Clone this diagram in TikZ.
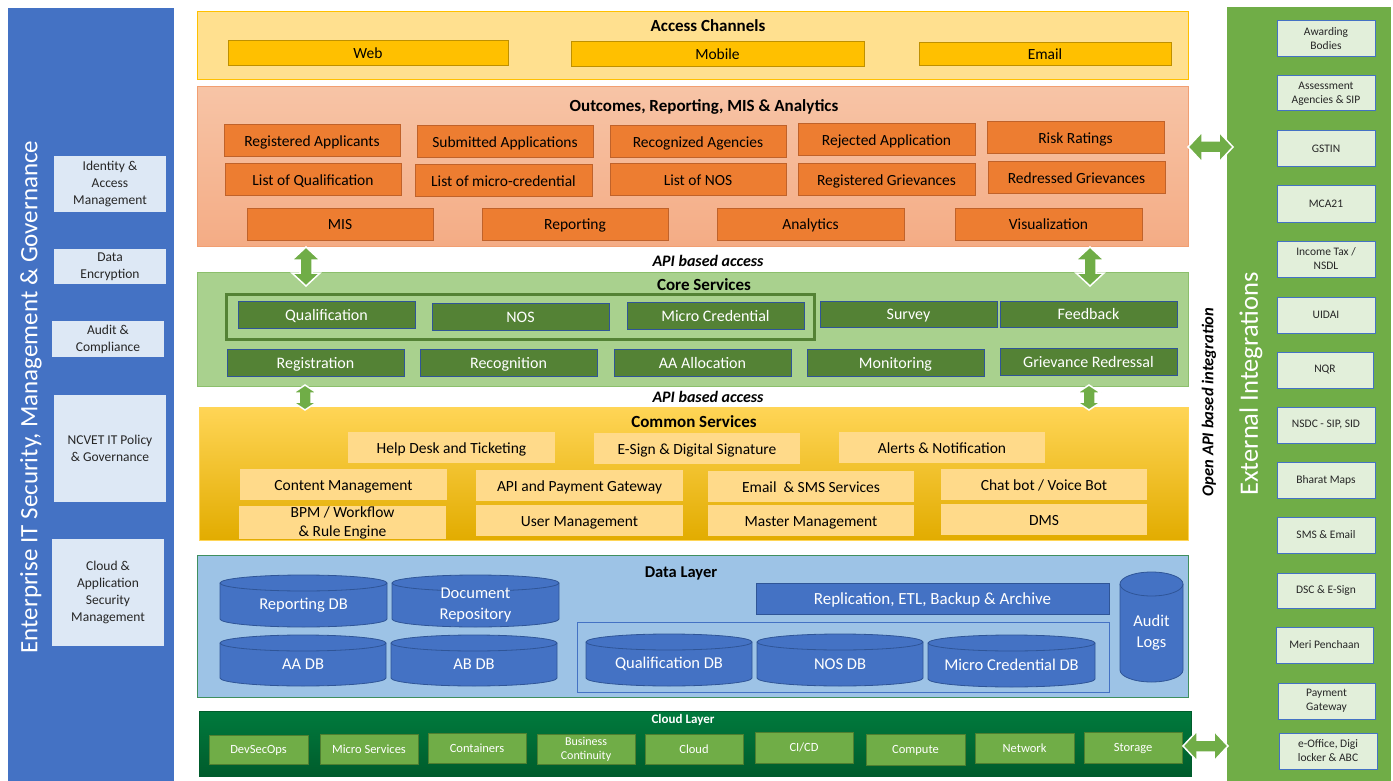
\documentclass[tikz,border=0pt]{standalone}
\usepackage{fontspec}
\setmainfont{Carlito}
\definecolor{leftblue}{HTML}{4472C4}
\definecolor{leftItem}{HTML}{DDE8F5}
\definecolor{rightgreen}{HTML}{70AD47}
\definecolor{rightItem}{HTML}{E2EFDA}
\definecolor{blueB}{HTML}{4472C4}
\definecolor{accBg}{HTML}{FFE08F}
\definecolor{accB}{HTML}{FFC000}
\definecolor{accItem}{HTML}{FFC000}
\definecolor{accItemB}{HTML}{BF9000}
\definecolor{outTop}{HTML}{F7C4A6}
\definecolor{outBot}{HTML}{F4AC85}
\definecolor{outB}{HTML}{F19F72}
\definecolor{outItem}{HTML}{ED7D31}
\definecolor{outItemB}{HTML}{C0622A}
\definecolor{coreBg}{HTML}{A9D18E}
\definecolor{coreB}{HTML}{8CBF6C}
\definecolor{coreItem}{HTML}{548235}
\definecolor{coreItemB}{HTML}{2F5597}
\definecolor{commTop}{HTML}{FFD556}
\definecolor{commMid}{HTML}{FFC000}
\definecolor{commBot}{HTML}{E2AC00}
\definecolor{commItem}{HTML}{FFDA8A}
\definecolor{dataBg}{HTML}{9DC3E6}
\definecolor{dataB}{HTML}{3F8F5F}
\definecolor{cylFill}{HTML}{4472C4}
\definecolor{cylB}{HTML}{2F5597}
\definecolor{cloudTop}{HTML}{007A3D}
\definecolor{cloudBot}{HTML}{005C2C}
\definecolor{cloudItem}{HTML}{70AD47}
\definecolor{cloudItemB}{HTML}{4E7F30}
\definecolor{arrowGreen}{HTML}{70AD47}
\newcommand\ffitem{\fontsize{15.5}{18}\selectfont}
\newcommand\ffcore{\fontsize{16}{18}\selectfont}
\newcommand\fftitle{\fontsize{17}{19}\selectfont}
\newcommand\ffleft{\fontsize{13.5}{17}\selectfont}
\newcommand\ffright{\fontsize{11.5}{14}\selectfont}
\newcommand\ffcloud{\fontsize{12.5}{14}\selectfont}
\newcommand\ffdata{\fontsize{16.5}{21}\selectfont}
\newcommand\ffbigl{\fontsize{25}{27}\selectfont}
\newcommand\ffbigr{\fontsize{26.5}{28}\selectfont}
\newcommand\ffapi{\fontsize{16}{18}\selectfont}
\newcommand\bx[7]{\node[#6,minimum width={(#4-#2)*1pt},minimum height={(#5-#3)*1pt}] (#1) at ({(#2+#4)/2},{(#3+#5)/2}) {#7};}
\newcommand\dbcyl[7]{%
  \path[cylshape] (#2,#3+#6) -- (#2,#5-#6) arc[start angle=180,end angle=360,x radius={((#4-#2)/2)*1pt},y radius=#6pt] -- (#4,#3+#6) arc[start angle=0,end angle=180,x radius={((#4-#2)/2)*1pt},y radius=#6pt] -- cycle;
  \draw[cylline] (#2,#3+#6) arc[start angle=180,end angle=360,x radius={((#4-#2)/2)*1pt},y radius=#6pt];
  \node[cyltext] (#1) at ({(#2+#4)/2},{(#3+#5)/2+#6/2}) {#7};}
\newcommand\vdarr[6]{% x, ytop, ybot, half head, head len, half shaft
  \path[dblarrow] (#1,#2) -- (#1+#4,#2+#5) -- (#1+#6,#2+#5) -- (#1+#6,#3-#5) -- (#1+#4,#3-#5) -- (#1,#3) -- (#1-#4,#3-#5) -- (#1-#6,#3-#5) -- (#1-#6,#2+#5) -- (#1-#4,#2+#5) -- cycle;}
\newcommand\hdarr[6]{% y, xleft, xright, half head, head len, half shaft
  \path[dblarrow] (#2,#1) -- (#2+#5,#1-#4) -- (#2+#5,#1-#6) -- (#3-#5,#1-#6) -- (#3-#5,#1-#4) -- (#3,#1) -- (#3-#5,#1+#4) -- (#3-#5,#1+#6) -- (#2+#5,#1+#6) -- (#2+#5,#1+#4) -- cycle;}
\begin{document}
\begin{tikzpicture}[x=1pt,y=-1pt,
  base/.style={inner sep=0pt,outer sep=0pt,align=center},
  layer/.style={base,line width=1pt},
  acc/.style={base,text height=13pt,text depth=2pt,fill=accItem,draw=accItemB,line width=1pt,font=\ffitem},
  outi/.style={base,text height=13pt,text depth=2pt,fill=outItem,draw=outItemB,line width=1pt,font=\ffitem},
  corei/.style={base,text height=13.2pt,text depth=2pt,fill=coreItem,draw=coreItemB,line width=1pt,text=white,font=\ffcore},
  commi/.style={base,fill=commItem,font=\ffitem},
  commone/.style={commi,text height=13pt,text depth=2pt},
  leftbox/.style={base,fill=leftItem,font=\ffleft,text=black!85},
  rightbox/.style={base,fill=rightItem,draw=blueB,line width=1pt,font=\ffright,text=black!85},
  cloudi/.style={base,fill=cloudItem,draw=cloudItemB,line width=0.8pt,text=white,font=\ffcloud},
  cloudone/.style={cloudi,text height=10.8pt,text depth=2pt},
  title/.style={font=\fftitle\bfseries},
  api/.style={font=\ffapi\bfseries\itshape},
  cylshape/.style={fill=cylFill,draw=cylB,line width=0.8pt},
  cylline/.style={draw=cylB,line width=0.8pt},
  cyltext/.style={base,text=white,font=\ffdata},
  dblarrow/.style={fill=arrowGreen,draw=white,line width=1.5pt,line join=miter}]
\useasboundingbox (0,0) rectangle (1393,781);
\fill[white] (0,0) rectangle (1393,781);

% left panel
\bx{secpanel}{8}{8}{174}{781}{base,fill=leftblue}{}
\node[base,rotate=90,text=white,font=\ffbigl] (sectitle) at (31,397) {Enterprise IT Security, Management \& Governance};
\bx{iam}{54}{156}{166}{212}{leftbox}{Identity \&\\Access\\Management}
\bx{enc}{54}{249}{166}{284}{leftbox}{Data\\Encryption}
\bx{aud}{52}{321}{164}{357}{leftbox}{Audit \&\\Compliance}
\bx{pol}{54}{395}{166}{502}{leftbox}{NCVET IT Policy\\\& Governance}
\bx{csm}{52}{539}{164}{646}{leftbox}{Cloud \&\\Application\\Security\\Management}

% right panel
\bx{extpanel}{1227}{7}{1391}{781}{base,fill=rightgreen}{}
\node[base,rotate=90,text=white,font=\ffbigr] (exttitle) at (1251,384) {External Integrations};
\bx{e1}{1277}{21}{1375}{57}{rightbox}{Awarding\\Bodies}
\bx{e2}{1277}{76}{1375}{111}{rightbox}{Assessment\\Agencies \& SIP}
\bx{e3}{1277}{131}{1375}{167}{rightbox}{GSTIN}
\bx{e4}{1277}{186}{1375}{222}{rightbox}{MCA21}
\bx{e5}{1277}{241}{1375}{277}{rightbox}{Income Tax /\\NSDL}
\bx{e6}{1277}{297}{1375}{333}{rightbox}{UIDAI}
\bx{e7}{1277}{352}{1373}{388}{rightbox}{NQR}
\bx{e8}{1277}{407}{1375}{443}{rightbox}{NSDC - SIP, SID}
\bx{e9}{1277}{462}{1375}{498}{rightbox}{Bharat Maps}
\bx{e10}{1277}{517}{1375}{553}{rightbox}{SMS \& Email}
\bx{e11}{1277}{573}{1375}{608}{rightbox}{DSC \& E-Sign}
\bx{e12}{1276}{627}{1373}{663}{rightbox}{Meri Penchaan}
\bx{e13}{1278}{683}{1375}{719}{rightbox}{Payment\\Gateway}
\bx{e14}{1279}{733}{1377}{769}{rightbox}{e-Office, Digi\\locker \& ABC}

% access channels
\bx{access}{197}{12}{1188}{80}{layer,fill=accBg,draw=accB}{}
\node[title] (acct) at (708,26) {Access Channels};
\bx{web}{228}{41}{508}{66}{acc}{Web}
\bx{mobile}{571}{42}{864}{67}{acc}{Mobile}
\bx{email}{919}{43}{1171}{66}{acc}{Email}

% outcomes
\bx{outc}{197}{87}{1188}{246}{layer,top color=outTop,bottom color=outBot,draw=outB}{}
\node[title] (outt) at (704,107) {Outcomes, Reporting, MIS \& Analytics};
\bx{o1}{224}{125}{400}{157}{outi}{Registered Applicants}
\bx{o2}{417}{126}{593}{158}{outi}{Submitted Applications}
\bx{o3}{610}{126}{786}{158}{outi}{Recognized Agencies}
\bx{o4}{798}{124}{975}{156}{outi}{Rejected Application}
\bx{o5}{987}{122}{1164}{154}{outi}{Risk Ratings}
\bx{o6}{225}{164}{401}{196}{outi}{List of Qualification}
\bx{o7}{415}{165}{592}{197}{outi}{List of micro-credential}
\bx{o8}{610}{164}{786}{196}{outi}{List of NOS}
\bx{o9}{798}{164}{975}{196}{outi}{Registered Grievances}
\bx{o10}{988}{162}{1165}{194}{outi}{Redressed Grievances}
\bx{o11}{247}{208}{433}{240}{outi}{MIS}
\bx{o12}{482}{208}{668}{240}{outi}{Reporting}
\bx{o13}{717}{208}{904}{240}{outi}{Analytics}
\bx{o14}{955}{208}{1142}{240}{outi}{Visualization}

\node[api] (api1) at (708,261) {API based access};

% core services
\bx{core}{197}{272}{1188}{386}{layer,fill=coreBg,draw=coreB}{}
\node[title] (coret) at (704,285) {Core Services};
\bx{cgroup}{226}{294}{814}{339}{base,draw=coreItem,line width=3pt}{}
\bx{c1}{238}{301}{415}{328}{corei}{Qualification}
\bx{c2}{432}{303}{609}{330}{corei}{NOS}
\bx{c3}{627}{302}{804}{329}{corei}{Micro Credential}
\bx{c4}{820}{301}{997}{327}{corei}{Survey}
\bx{c5}{1000}{301}{1177}{327}{corei}{Feedback}
\bx{c6}{227}{349}{404}{376}{corei}{Registration}
\bx{c7}{420}{349}{597}{376}{corei}{Recognition}
\bx{c8}{614}{349}{791}{376}{corei}{AA Allocation}
\bx{c9}{807}{349}{984}{376}{corei}{Monitoring}
\bx{c10}{1000}{348}{1177}{375}{corei}{Grievance Redressal}

\node[api] (api2) at (708,397) {API based access};

% common services
\bx{comm}{199}{407}{1188}{540}{layer,top color=commTop,middle color=commMid,bottom color=commBot,draw=commTop}{}
\node[title] (commt) at (694,422) {Common Services};
\bx{s1}{348}{432}{555}{463}{commone}{Help Desk and Ticketing}
\bx{s2}{594}{433}{800}{464}{commone}{E-Sign \& Digital Signature}
\bx{s3}{839}{432}{1045}{463}{commone}{Alerts \& Notification}
\bx{s4}{240}{469}{447}{500}{commone}{Content Management}
\bx{s5}{476}{470}{683}{501}{commone}{API and Payment Gateway}
\bx{s6}{708}{471}{914}{502}{commone}{Email \ \& SMS Services}
\bx{s7}{941}{469}{1147}{500}{commone}{Chat bot / Voice Bot}
\bx{s8}{239}{507}{446}{538}{commi,font=\fontsize{15.5}{19}\selectfont}{BPM / Workflow\\\& Rule Engine}
\bx{s9}{476}{505}{683}{536}{commone}{User Management}
\bx{s10}{708}{505}{914}{536}{commone}{Master Management}
\bx{s11}{941}{504}{1147}{535}{commone}{DMS}

% data layer
\bx{data}{197}{555}{1188}{697}{layer,fill=dataBg,draw=dataB}{}
\node[title,font=\fontsize{16.5}{19}\selectfont\bfseries] (datat) at (681,573) {Data Layer};
\bx{dbframe}{577}{622}{1109}{692}{base,draw=blueB,line width=0.8pt}{}
\bx{repl}{756}{583}{1109}{614}{base,text height=14pt,text depth=2pt,fill=cylFill,draw=cylB,line width=0.8pt,text=white,font=\fontsize{17}{19}\selectfont}{Replication, ETL, Backup \& Archive}
\dbcyl{rdb}{220}{575}{387}{627}{8}{Reporting DB}
\dbcyl{docrep}{392}{575}{559}{627}{8}{Document\\Repository}
\dbcyl{aadb}{220}{635}{386}{686}{8}{AA DB}
\dbcyl{abdb}{391}{635}{557}{686}{8}{AB DB}
\dbcyl{qdb}{586}{634}{752}{686}{8}{Qualification DB}
\dbcyl{nosdb}{757}{634}{923}{686}{8}{NOS DB}
\dbcyl{mcdb}{928}{635}{1095}{687}{8}{Micro Credential DB}
\dbcyl{audit}{1120}{572}{1183}{682}{12}{Audit\\Logs}

% cloud layer
\bx{cloud}{199}{711}{1191}{776}{layer,top color=cloudTop,bottom color=cloudBot,draw=cloudBot}{}
\node[base,text=white,font=\fontsize{13}{15}\selectfont\bfseries] (cloudt) at (683,720) {Cloud Layer};
\bx{k1}{209}{735}{308}{764}{cloudone}{DevSecOps}
\bx{k2}{320}{734}{418}{764}{cloudone}{Micro Services}
\bx{k3}{428}{733}{526}{763}{cloudone}{Containers}
\bx{k4}{537}{734}{635}{764}{cloudi,font=\fontsize{12}{14}\selectfont}{Business\\Continuity}
\bx{k5}{645}{734}{743}{764}{cloudone}{Cloud}
\bx{k6}{755}{732}{853}{763}{cloudone}{CI/CD}
\bx{k7}{866}{734}{965}{765}{cloudone}{Compute}
\bx{k8}{975}{733}{1074}{763}{cloudone}{Network}
\bx{k9}{1084}{732}{1182}{763}{cloudone}{Storage}

% integration label
\node[base,rotate=90,font=\fontsize{16.5}{18}\selectfont\bfseries\itshape] (openapi) at (1209,402) {Open API based integration};

% arrows
\vdarr{306}{247}{286}{14}{13}{6}
\vdarr{1090}{247}{286}{14}{13}{6}
\vdarr{305}{385}{410}{12}{8}{6}
\vdarr{1089}{385}{410}{12}{8}{6}
\hdarr{147}{1188}{1233}{15}{14}{6}
\hdarr{746}{1183}{1228}{15}{14}{6}
\end{tikzpicture}
\end{document}
